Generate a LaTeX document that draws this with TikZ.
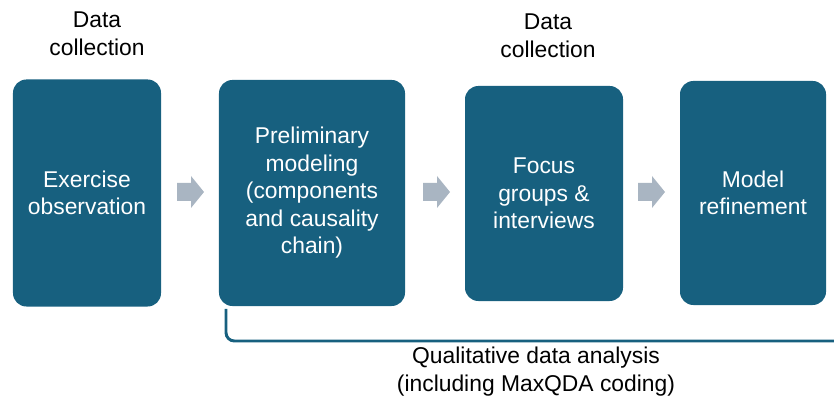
\documentclass[tikz,border=0pt]{standalone}
\usepackage{fontspec}
\setmainfont{Liberation Sans}
\definecolor{boxblue}{HTML}{17607F}
\definecolor{arrowgray}{HTML}{A9B5C2}

\begin{document}
\begin{tikzpicture}[x=0.03cm,y=-0.03cm,
  stage/.style={fill=boxblue,rounded corners=0.4cm,text=white,align=center,inner sep=0pt,font=\fontsize{19.5}{23.5}\selectfont},
  caption/.style={align=center,font=\fontsize{19.5}{24}\selectfont}]
\useasboundingbox (0,0) rectangle (834,405);
% stages
\node[stage,minimum width=4.44cm,minimum height=6.81cm] (obs) at (87,193) {Exercise\\observation};
\node[stage,minimum width=5.58cm,minimum height=6.78cm] (prelim) at (312,193) {Preliminary\\modeling\\(components\\and causality\\chain)};
\node[stage,minimum width=4.74cm,minimum height=6.45cm] (focus) at (544,193.5) {Focus\\groups \&\\interviews};
\node[stage,minimum width=4.38cm,minimum height=6.72cm] (refine) at (753,193) {Model\\refinement};
% block arrows between stages
\foreach \xa in {177,423,638}
  \fill[arrowgray,shift={(\xa,0)}] (0,183) -- (14,183) -- (14,176) -- (27,192) -- (14,208) -- (14,201) -- (0,201) -- cycle;
% labels
\node[caption] (dc1) at (97,34) {Data\\collection};
\node[caption] (dc2) at (548,36) {Data\\collection};
\node[caption] (qda) at (536,372) {Qualitative data analysis\\(including MaxQDA coding)};
% bracket
\coordinate (bstart) at (226,309);
\coordinate (bend) at (834,341);
\draw[boxblue,line width=2.5pt,rounded corners=0.25cm] (bstart) |- (bend);
\end{tikzpicture}
\end{document}
